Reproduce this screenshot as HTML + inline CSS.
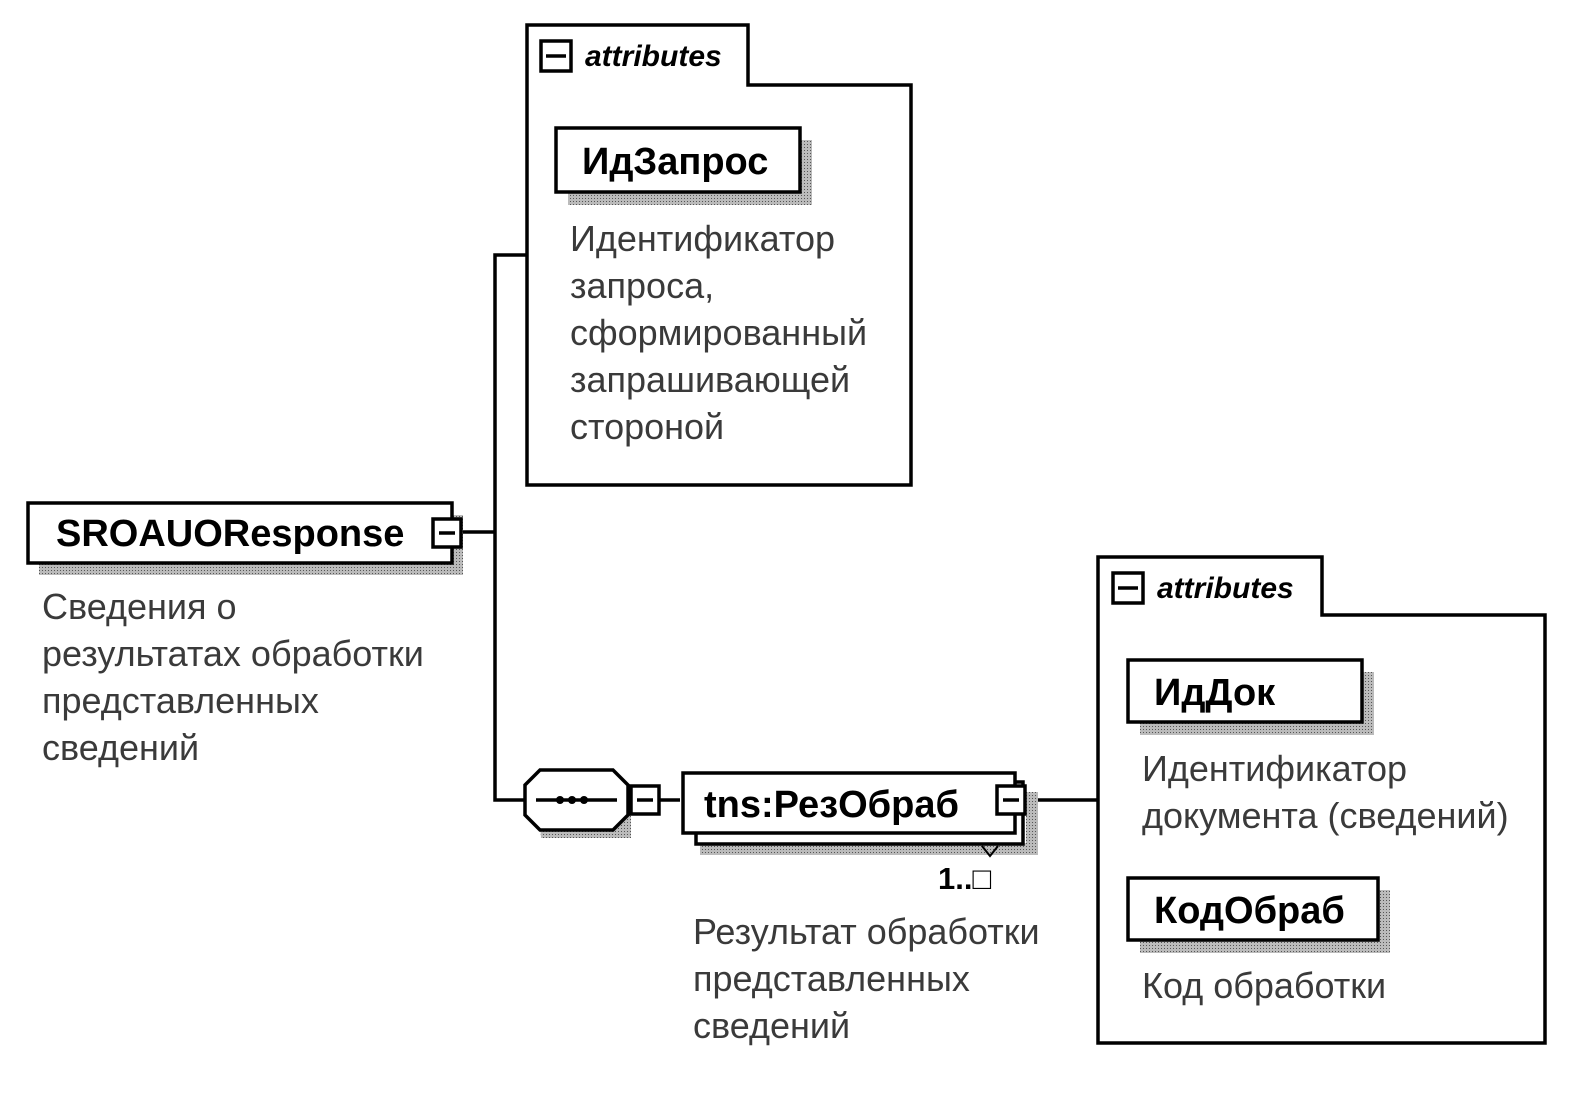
<!DOCTYPE html>
<html><head><meta charset="utf-8"><style>
html,body{margin:0;padding:0;background:#fff;}
svg text{font-family:"Liberation Sans",sans-serif;}
.d{font-size:36px;fill:#3a3a3a;}
.n{font-size:38px;font-weight:bold;fill:#000;}
.a{font-size:30px;font-weight:bold;font-style:italic;fill:#000;}
</style></head><body>
<svg width="1587" height="1101" xmlns="http://www.w3.org/2000/svg">
<defs>
<pattern id="sh" width="3" height="3" patternUnits="userSpaceOnUse"><rect width="3" height="3" fill="#bbb"/><rect width="1" height="1" fill="#555"/></pattern>
</defs>
<g fill="none" stroke="#000" stroke-width="3.5">
<line x1="462" y1="532" x2="495" y2="532"/>
<polyline points="527,255 495,255 495,800 525,800"/>
<line x1="660" y1="800" x2="680" y2="800"/>
<line x1="1026" y1="800" x2="1098" y2="800"/>
</g>
<!-- SROAUOResponse -->
<rect x="39" y="563" width="424" height="12" fill="url(#sh)"/>
<rect x="452" y="515" width="11" height="60" fill="url(#sh)"/>
<rect x="28" y="503" width="424" height="60" fill="#fff" stroke="#000" stroke-width="3.5"/>
<text x="56" y="546" class="n">SROAUOResponse</text>
<rect x="433" y="519" width="28" height="28" fill="#fff" stroke="#000" stroke-width="3.5"/>
<line x1="439" y1="533" x2="455" y2="533" stroke="#000" stroke-width="3.5"/>
<text class="d"><tspan x="42" y="619">Сведения о</tspan><tspan x="42" y="666">результатах обработки</tspan><tspan x="42" y="713">представленных</tspan><tspan x="42" y="760">сведений</tspan></text>
<!-- attributes 1 -->
<path d="M527,25 H748 V85 H911 V485 H527 Z" fill="#fff" stroke="#000" stroke-width="3.5"/>
<rect x="541" y="41" width="30" height="30" fill="#fff" stroke="#000" stroke-width="3.5"/>
<line x1="546" y1="56" x2="566" y2="56" stroke="#000" stroke-width="3.5"/>
<text x="585" y="66" class="a">attributes</text>
<rect x="568" y="192" width="244" height="13" fill="url(#sh)"/>
<rect x="800" y="140" width="12" height="65" fill="url(#sh)"/>
<rect x="556" y="128" width="244" height="64" fill="#fff" stroke="#000" stroke-width="3.5"/>
<text x="582" y="174" class="n">ИдЗапрос</text>
<text class="d"><tspan x="570" y="251">Идентификатор</tspan><tspan x="570" y="298">запроса,</tspan><tspan x="570" y="345">сформированный</tspan><tspan x="570" y="392">запрашивающей</tspan><tspan x="570" y="439">стороной</tspan></text>
<!-- octagon -->
<polygon points="537,782 547,772 616,772 631,787 631,838 541,838" fill="url(#sh)"/>
<polygon points="525,785 540,770 613,770 628,785 628,815 613,830 540,830 525,815" fill="#fff" stroke="#000" stroke-width="3.5"/>
<line x1="536" y1="800" x2="617" y2="800" stroke="#000" stroke-width="3.5"/>
<circle cx="560" cy="800" r="4"/><circle cx="572" cy="800" r="4"/><circle cx="584" cy="800" r="4"/>
<rect x="631" y="786" width="28" height="28" fill="#fff" stroke="#000" stroke-width="3.5"/>
<line x1="637" y1="800" x2="653" y2="800" stroke="#000" stroke-width="3.5"/>
<!-- tns:РезОбраб -->
<rect x="700" y="843" width="338" height="12" fill="url(#sh)"/>
<rect x="1026" y="792" width="12" height="63" fill="url(#sh)"/>
<rect x="696" y="782" width="327" height="62" fill="#fff" stroke="#000" stroke-width="3.5"/>
<rect x="683" y="773" width="332" height="60" fill="#fff" stroke="#000" stroke-width="3.5"/>
<text x="704" y="817" class="n">tns:РезОбраб</text>
<rect x="997" y="786" width="28" height="28" fill="#fff" stroke="#000" stroke-width="3.5"/>
<line x1="1003" y1="800" x2="1019" y2="800" stroke="#000" stroke-width="3.5"/>
<polyline points="982,846 990,856 998,846" fill="none" stroke="#000" stroke-width="2"/>
<text x="938" y="889" style="font-size:31px;font-weight:bold">1..□</text>
<text class="d"><tspan x="693" y="944">Результат обработки</tspan><tspan x="693" y="991">представленных</tspan><tspan x="693" y="1038">сведений</tspan></text>
<!-- attributes 2 -->
<path d="M1098,557 H1322 V615 H1545 V1043 H1098 Z" fill="#fff" stroke="#000" stroke-width="3.5"/>
<rect x="1113" y="573" width="30" height="30" fill="#fff" stroke="#000" stroke-width="3.5"/>
<line x1="1118" y1="588" x2="1138" y2="588" stroke="#000" stroke-width="3.5"/>
<text x="1157" y="598" class="a">attributes</text>
<rect x="1140" y="722" width="234" height="13" fill="url(#sh)"/>
<rect x="1362" y="672" width="12" height="63" fill="url(#sh)"/>
<rect x="1128" y="660" width="234" height="62" fill="#fff" stroke="#000" stroke-width="3.5"/>
<text x="1154" y="705" class="n">ИдДок</text>
<text class="d"><tspan x="1142" y="781">Идентификатор</tspan><tspan x="1142" y="828">документа (сведений)</tspan></text>
<rect x="1140" y="940" width="250" height="13" fill="url(#sh)"/>
<rect x="1378" y="890" width="12" height="63" fill="url(#sh)"/>
<rect x="1128" y="878" width="250" height="62" fill="#fff" stroke="#000" stroke-width="3.5"/>
<text x="1154" y="923" class="n">КодОбраб</text>
<text class="d"><tspan x="1142" y="998">Код обработки</tspan></text>
</svg>
</body></html>
